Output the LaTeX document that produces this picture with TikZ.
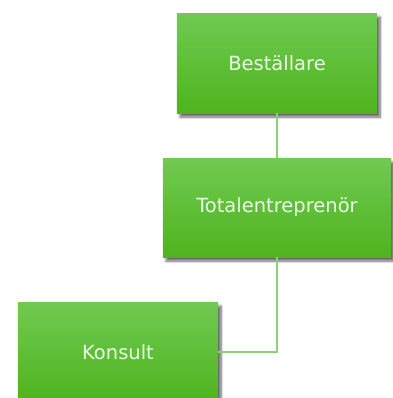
\documentclass[tikz,border=0pt]{standalone}
\usepackage{fontspec}
\setmainfont{DejaVu Sans}
\usetikzlibrary{shadows.blur}
\definecolor{boxtop}{RGB}{112,202,82}
\definecolor{boxbot}{RGB}{78,180,30}
\definecolor{linecol}{RGB}{140,210,115}
\definecolor{txtcol}{RGB}{236,248,230}
\tikzset{
  orgbox/.style={rectangle, inner sep=0pt, top color=boxtop, bottom color=boxbot,
    blur shadow={shadow xshift=3bp, shadow yshift=-4bp, shadow opacity=60, shadow blur steps=8, shadow blur radius=2.5bp},
    text=txtcol, font=\fontsize{19.5bp}{23bp}\selectfont},
  conn/.style={draw=linecol, line width=1.2bp}
}
\begin{document}
\begin{tikzpicture}[x=1bp,y=-1bp]
\useasboundingbox (0,0) rectangle (393,398);
\node[orgbox, minimum width=200bp, minimum height=100bp] (A) at (277,63) {Beställare};
\node[orgbox, minimum width=228bp, minimum height=99bp] (B) at (277,207.5) {Totalentreprenör};
\node[orgbox, minimum width=200bp, minimum height=100bp] (C) at (118,352) {Konsult};
\draw[conn] (A.south) -- (B.north);
\draw[conn] (B.south) |- (C.east);
\end{tikzpicture}
\end{document}
